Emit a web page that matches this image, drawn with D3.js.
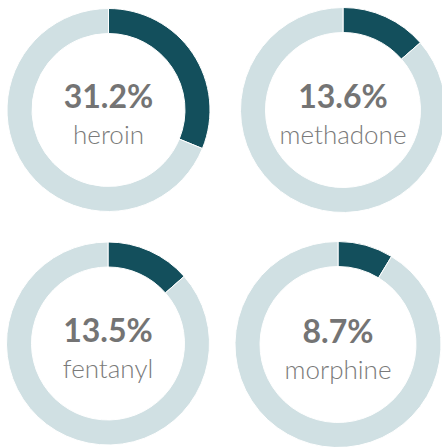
<!DOCTYPE html>
<html>
<head>
<meta charset="utf-8">
<script src="https://d3js.org/d3.v7.min.js"></script>
<style>
	body { margin:0; background:#fff; }
	svg { display:block; }
	.pct { font-family:Lato, 'Open Sans', sans-serif; font-weight:700; fill:#747474; }
	.lbl { font-family:Lato, 'Open Sans', sans-serif; font-weight:300; fill:#7a7a7a; }
</style>
</head>
<body>
<div id="container"></div>
<script>
// Share of deaths by drug
var drugs = ['heroin', 'methadone', 'fentanyl', 'morphine']
var shares = [31.2, 13.6, 13.5, 8.7]

// Where each donut sits (they are not quite the same size)
var layout = [
	{cx:108.5, cy:110, r:101.5},
	{cx:343, cy:110, r:102.5},
	{cx:108, cy:343.5, r:101.5},
	{cx:338, cy:344.5, r:103}
]

var width = 442, height = 447
var ring = 25
var colors = d3.scaleOrdinal().domain(['value', 'rest']).range(['#134f5c', '#d0e0e3'])

var svg = d3.select('#container').append('svg')
	.attr('width', width)
	.attr('height', height)

var pie = d3.pie().sort(null).value(function(d) { return d.v })

drugs.map(function(drug, i) {
	var pos = layout[i]
	var arc = d3.arc().innerRadius(pos.r - ring).outerRadius(pos.r)
	var parts = [{k:'value', v:shares[i]}, {k:'rest', v:100 - shares[i]}]

	var g = svg.append('g').attr('transform', 'translate(' + pos.cx + ',' + pos.cy + ')')

	g.selectAll('path')
		.data(pie(parts))
		.enter().append('path')
		.attr('d', arc)
		.attr('fill', function(d) { return colors(d.data.k) })
		.attr('stroke', '#fff')
		.attr('stroke-width', 1)

	g.append('text').attr('class', 'pct')
		.attr('text-anchor', 'middle')
		.attr('y', -2)
		.style('font-size', '32px')
		.text(d3.format('.1f')(shares[i]) + '%')

	g.append('text').attr('class', 'lbl')
		.attr('text-anchor', 'middle')
		.attr('y', 34)
		.style('font-size', '26px')
		.text(drug)
})
</script>
</body>
</html>
